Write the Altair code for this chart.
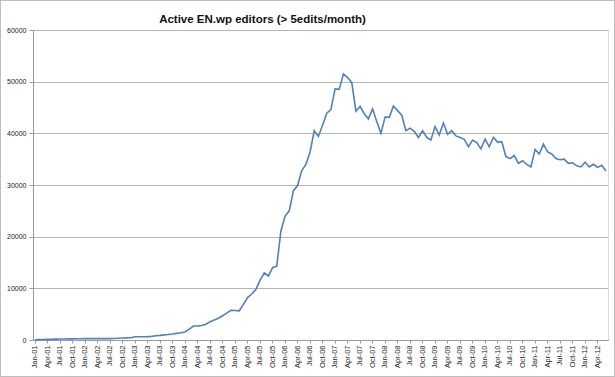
import altair as alt
import pandas as pd

years = ["01", "02", "03", "04", "05", "06", "07", "08", "09", "10", "11", "12"]
month_names = ["Jan", "Feb", "Mar", "Apr", "May", "Jun", "Jul", "Aug", "Sep", "Oct", "Nov", "Dec"]
months = [f"{m}-{y}" for y in years for m in month_names][:138]

editors = [
    # 2001
    60, 90, 110, 130, 150, 170, 190, 200, 210, 220, 230, 250,
    # 2002
    260, 270, 270, 260, 260, 260, 260, 290, 330, 380, 420, 450,
    # 2003
    630, 640, 640, 650, 700, 820, 900, 1000, 1050, 1150, 1280, 1400,
    # 2004
    1550, 2100, 2700, 2700, 2800, 3050, 3550, 3850, 4200, 4700, 5200, 5750,
    # 2005
    5700, 5650, 6900, 8200, 8900, 9800, 11600, 13000, 12400, 14000, 14300, 21100,
    # 2006
    24000, 25000, 28900, 29900, 32800, 34000, 36400, 40500, 39400, 41600, 43900, 44600,
    # 2007
    48600, 48500, 51500, 50800, 49800, 44300, 45200, 43800, 42800, 44700, 42300, 40000,
    # 2008
    43150, 43100, 45300, 44400, 43500, 40500, 41000, 40400, 39200, 40500, 39200, 38700,
    # 2009
    41300, 39700, 42000, 39800, 40500, 39500, 39200, 38850, 37400, 38700, 38200, 37000,
    # 2010
    38900, 37400, 39200, 38300, 38400, 35500, 35100, 35700, 34200, 34700, 34000, 33500,
    # 2011
    36900, 36000, 37900, 36400, 36000, 35100, 34900, 35000, 34200, 34300, 33700, 33500,
    # 2012
    34400, 33500, 34000, 33400, 33800, 32700,
]

tick_labels = months[::3]
y_ticks = [0, 10000, 20000, 30000, 40000, 50000, 60000]

df = pd.DataFrame({"month": months, "editors": editors})

font = "Liberation Sans"

line = alt.Chart(df).mark_line(color="#4F81BD", strokeWidth=1.6).encode(
    x=alt.X(
        "month:O",
        sort=months,
        scale=alt.Scale(type="band", paddingInner=0, paddingOuter=0),
        axis=alt.Axis(
            values=tick_labels,
            title=None,
            labelAngle=-90,
            labelAlign="right",
            labelBaseline="middle",
            labelFontSize=7.5,
            labelFont=font,
            labelColor="#222222",
            labelPadding=2,
            tickSize=3,
            tickColor="#9a9a9a",
            domainColor="#9a9a9a",
            grid=False,
        ),
    ),
    y=alt.Y(
        "editors:Q",
        scale=alt.Scale(domain=[0, 60000], nice=False),
        axis=alt.Axis(
            values=y_ticks,
            format="d",
            title=None,
            labelFontSize=7,
            labelFont=font,
            labelColor="#222222",
            labelPadding=3,
            tickSize=4,
            tickColor="#9a9a9a",
            domainColor="#9a9a9a",
            gridColor="#b4b4b4",
            gridWidth=1,
        ),
    ),
)

frame = alt.Chart(df).mark_rect(
    fill=None, stroke="#bdbdbd", strokeWidth=1, clip=False
).encode(
    x=alt.value(-32.5), x2=alt.value(581.5), y=alt.value(-29.5), y2=alt.value(346.5)
)

chart = alt.layer(frame, line).properties(
    width=575,
    height=310,
    title=alt.TitleParams(
        "Active EN.wp editors (> 5edits/month)",
        font=font,
        fontSize=11.5,
        fontWeight="bold",
        color="#111111",
        anchor="middle",
        dx=-58,
        offset=-25,
    ),
    autosize=alt.AutoSizeParams(type="none"),
    padding={"left": 33, "top": 30, "right": 7, "bottom": 37},
).configure_view(stroke=None).configure(background="white")

chart.save("out.html", embed_options={"renderer": "svg", "actions": False})
